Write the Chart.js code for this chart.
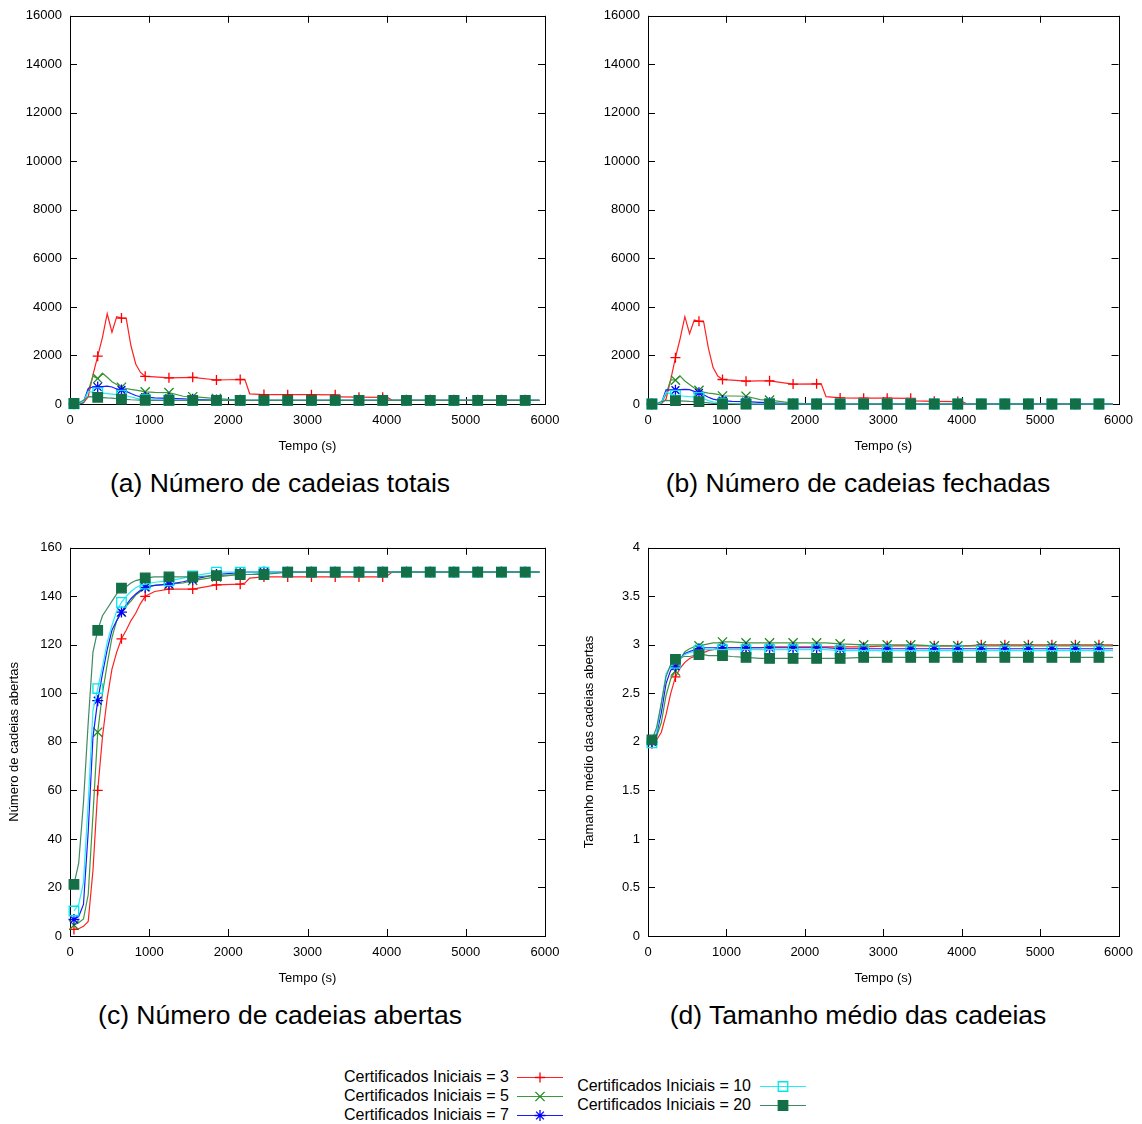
<!DOCTYPE html>
<html>
<head>
<meta charset="utf-8">
<script src="https://cdn.jsdelivr.net/npm/chart.js@4.4.0/dist/chart.umd.min.js"></script>
<style>
  body { margin: 0; background: #fff; font-family: "Liberation Sans", Arial, sans-serif; }
  #page { position: relative; width: 1142px; height: 1124px; overflow: hidden; background: #fff; }
  .box { position: absolute; }
  .cap { position: absolute; font-size: 26.5px; color: #000; white-space: nowrap; transform: translate(-50%, -50%); }
  .legtxt { position: absolute; font-size: 16px; color: #000; white-space: nowrap; transform: translateY(-50%); text-align: right; }
  .legsw { position: absolute; }
</style>
</head>
<body>
<div id="page">
  <canvas id="cA" class="box" width="575" height="460" style="left:0;top:0"></canvas>
  <canvas id="cB" class="box" width="567" height="460" style="left:575px;top:0"></canvas>
  <canvas id="cC" class="box" width="575" height="460" style="left:0;top:532px"></canvas>
  <canvas id="cD" class="box" width="567" height="460" style="left:575px;top:532px"></canvas>
  <div class="cap" style="left:280px;top:483px">(a) Número de cadeias totais</div>
  <div class="cap" style="left:858px;top:483px">(b) Número de cadeias fechadas</div>
  <div class="cap" style="left:280px;top:1015px">(c) Número de cadeias abertas</div>
  <div class="cap" style="left:858px;top:1015px">(d) Tamanho médio das cadeias</div>
  <div id="legenda"></div>
</div>
<script>
// tempo (s) das amostras
const tempo = [50,110,170,230,290,350,410,470,530,590,650,710,770,830,890,950,1070,1250,1430,1550,1850,2150,2210,2270,2450,2750,3050,3350,3410,3650,3950,4010,4070,4250,4550,4850,5150,5450,5750,5930];

const rotulos = ['Certificados Iniciais = 3','Certificados Iniciais = 5','Certificados Iniciais = 7','Certificados Iniciais = 10','Certificados Iniciais = 20'];

// (a) numero de cadeias totais
const totais3  = [3,5,40,300,1200,1970,2750,3720,2960,3600,3540,3530,2400,1650,1300,1140,1120,1080,1090,1100,990,1010,1000,420,390,385,385,380,290,280,275,270,150,150,150,150,150,150,150,150];
const totais5  = [5,8,60,550,1150,1050,1270,1100,920,800,690,640,600,570,540,500,480,470,320,300,220,160,155,150,150,150,150,150,150,150,150,150,150,150,150,150,150,150,150,150];
const totais7  = [7,12,80,640,700,700,720,740,700,620,580,520,430,350,300,280,250,235,210,195,160,150,150,150,150,150,150,150,150,150,150,150,150,150,150,150,150,150,150,150];
const totais10 = [10,20,100,520,480,470,450,430,410,390,370,340,290,240,200,185,170,160,155,150,150,150,150,150,150,150,150,150,150,150,150,150,150,150,150,150,150,150,150,150];
const totais20 = [21,50,150,300,290,275,265,250,240,220,200,190,175,165,160,155,150,150,150,150,150,150,150,150,150,150,150,150,150,150,150,150,150,150,150,150,150,150,150,150];

// (b) numero de cadeias fechadas
const fechadas3  = [0,0,10,200,1000,1910,2700,3600,2900,3460,3410,3380,2300,1500,1150,1010,980,940,950,955,820,830,820,300,250,240,240,235,130,110,100,95,0,0,0,0,0,0,0,0];
const fechadas5  = [0,0,20,400,1000,980,1150,950,800,660,560,490,450,430,400,330,330,320,180,160,40,0,0,0,0,0,0,0,0,0,0,0,0,0,0,0,0,0,0,0];
const fechadas7  = [0,0,30,580,580,570,590,600,590,520,460,380,280,200,160,140,110,95,70,55,0,0,0,0,0,0,0,0,0,0,0,0,0,0,0,0,0,0,0,0];
const fechadas10 = [0,0,40,480,420,370,340,320,300,290,270,220,140,90,60,40,20,5,0,0,0,0,0,0,0,0,0,0,0,0,0,0,0,0,0,0,0,0,0,0];
const fechadas20 = [0,20,100,150,140,135,125,115,105,100,95,70,50,25,10,0,0,0,0,0,0,0,0,0,0,0,0,0,0,0,0,0,0,0,0,0,0,0,0,0];

// (c) numero de cadeias abertas
const abertas3  = [2.7,3,4,6,27,60,82,98,110,117,122.5,126,130,133,137,140,142,143,143,143,144.7,145,145.5,147.5,148,148,148,148,148,148,148,148.5,150,150,150,150,150,150,150,150];
const abertas5  = [4.5,5.5,7,17,50,84,100,112,123,130,133.5,136,138,140.5,142,144,144.5,145,145.5,146.5,148,149,149,149,149.5,150,150,150,150,150,150,150,150,150,150,150,150,150,150,150];
const abertas7  = [6.8,8,13,43,82,97,108,118,126,130,133.5,136.5,139,141,142.5,143.7,144.5,145,146,147,149,149.8,150,150,150,150,150,150,150,150,150,150,150,150,150,150,150,150,150,150];
const abertas10 = [10.3,13,22,55,93,102,111,121,128,134,137.5,140,142,143.5,144.5,145,145.8,146.4,147.5,148.4,150,150,150,150,150,150,150,150,150,150,150,150,150,150,150,150,150,150,150,150];
const abertas20 = [21.3,30,55,88,117,126,132,135,138,141,143.4,144,145.5,146.5,147,147.6,148,148,148,148,148.5,149,149,149,149,150,150,150,150,150,150,150,150,150,150,150,150,150,150,150];

// (d) tamanho medio das cadeias abertas
const tamanho3  = [1.98,2.02,2.1,2.28,2.5,2.67,2.76,2.82,2.86,2.88,2.9,2.92,2.94,2.95,2.96,2.97,2.97,2.97,2.97,2.98,2.98,2.98,2.98,2.98,2.98,2.98,2.99,2.99,2.99,2.99,2.99,2.99,2.99,3.0,3.0,3.0,3.0,3.0,3.0,3.0];
const tamanho5  = [2.02,2.06,2.2,2.48,2.65,2.73,2.85,2.93,2.96,2.98,2.99,3.0,3.01,3.02,3.02,3.03,3.03,3.02,3.02,3.02,3.02,3.02,3.02,3.02,3.01,3.0,3.0,3.0,3.0,2.99,2.99,2.99,2.99,2.99,2.99,2.99,2.99,2.99,2.99,2.99];
const tamanho7  = [2.0,2.08,2.3,2.6,2.74,2.78,2.86,2.91,2.93,2.95,2.96,2.97,2.97,2.97,2.97,2.97,2.97,2.97,2.97,2.97,2.97,2.97,2.97,2.97,2.96,2.96,2.96,2.96,2.96,2.96,2.96,2.96,2.96,2.96,2.96,2.96,2.96,2.96,2.96,2.96];
const tamanho10 = [1.99,2.1,2.4,2.7,2.79,2.81,2.86,2.9,2.92,2.93,2.94,2.95,2.95,2.95,2.95,2.95,2.95,2.95,2.95,2.95,2.95,2.95,2.95,2.95,2.94,2.94,2.94,2.94,2.94,2.94,2.94,2.94,2.94,2.94,2.94,2.94,2.94,2.94,2.94,2.94];
const tamanho20 = [2.02,2.15,2.4,2.67,2.8,2.85,2.87,2.88,2.88,2.89,2.9,2.9,2.89,2.89,2.89,2.89,2.88,2.87,2.86,2.86,2.86,2.86,2.86,2.86,2.86,2.87,2.87,2.87,2.87,2.87,2.87,2.87,2.87,2.87,2.87,2.87,2.87,2.87,2.87,2.87];

const estilos = [
  {cor: '#ff0000', linha: '#ff2020', ponto: 'cross',    raio: 5,   fundo: '#ff0000'},
  {cor: '#1f8a1f', linha: '#3c983c', ponto: 'crossRot', raio: 6.5, fundo: '#1f8a1f'},
  {cor: '#0000ff', linha: '#1a1aff', ponto: 'star',     raio: 5.5, fundo: '#0000ff'},
  {cor: '#00e6ee', linha: '#22eef4', ponto: 'rect',     raio: 6.7, fundo: 'rgba(0,0,0,0)'},
  {cor: '#146f46', linha: '#3f8a64', ponto: 'rect',     raio: 6.7, fundo: '#146f46'}
];

const fonte = {family: '"Liberation Sans", Arial, sans-serif', size: 13};

// moldura e marcas internas estilo gnuplot
const moldura = {
  id: 'moldura',
  beforeDatasetsDraw(chart) {
    const {ctx, chartArea: a, scales} = chart;
    ctx.save();
    ctx.strokeStyle = '#000';
    ctx.lineWidth = 1;
    ctx.beginPath();
    scales.x.ticks.forEach(t => {
      const px = Math.round(scales.x.getPixelForValue(t.value)) + 0.5;
      ctx.moveTo(px, a.bottom); ctx.lineTo(px, a.bottom - 7);
      ctx.moveTo(px, a.top); ctx.lineTo(px, a.top + 7);
    });
    scales.y.ticks.forEach(t => {
      const py = Math.round(scales.y.getPixelForValue(t.value)) + 0.5;
      ctx.moveTo(a.left, py); ctx.lineTo(a.left + 7, py);
      ctx.moveTo(a.right, py); ctx.lineTo(a.right - 7, py);
    });
    ctx.stroke();
    ctx.strokeRect(Math.round(a.left) + 0.5, Math.round(a.top) + 0.5, Math.round(a.right - a.left), Math.round(a.bottom - a.top));
    ctx.restore();
  }
};

function grafico(id, series, yMax, yStep, yTitulo, yLargura, padDireita) {
  const datasets = series.map((vals, i) => {
    const e = estilos[i];
    return {
      label: rotulos[i],
      data: tempo.map((t, k) => ({x: t, y: vals[k]})),
      borderColor: e.linha,
      borderWidth: 1.2,
      pointStyle: e.ponto,
      pointBorderColor: e.cor,
      pointBackgroundColor: e.fundo,
      pointBorderWidth: 1.3,
      pointRadius: c => ((tempo[c.dataIndex] - 50) % 300 === 0 ? e.raio : 0),
      tension: 0,
      order: 5 - i,
      clip: false
    };
  });
  new Chart(document.getElementById(id), {
    type: 'line',
    data: {datasets},
    options: {
      responsive: false,
      animation: false,
      layout: {padding: {top: 13, right: padDireita, left: 0, bottom: 0}},
      plugins: {legend: {display: false}, tooltip: {enabled: false}},
      scales: {
        x: {
          type: 'linear', min: 0, max: 6000,
          grid: {display: false, drawTicks: false},
          border: {display: false},
          ticks: {stepSize: 1000, font: fonte, color: '#000', padding: 9, maxRotation: 0, callback: v => String(v)},
          title: {display: true, text: 'Tempo (s)', font: fonte, color: '#000', padding: {top: 0, bottom: 6}},
          afterFit(s) { s.height = 56; }
        },
        y: {
          min: 0, max: yMax,
          grid: {display: false, drawTicks: false},
          border: {display: false},
          ticks: {stepSize: yStep, font: fonte, color: '#000', padding: 8, callback: v => String(v)},
          title: {display: !!yTitulo, text: yTitulo || '', font: fonte, color: '#000', padding: {top: 7, bottom: 0}},
          afterFit(s) { s.width = yLargura; }
        }
      }
    },
    plugins: [moldura]
  });
}

grafico('cA', [totais3, totais5, totais7, totais10, totais20], 16000, 2000, '', 70, 30);
grafico('cB', [fechadas3, fechadas5, fechadas7, fechadas10, fechadas20], 16000, 2000, '', 73, 19);
grafico('cC', [abertas3, abertas5, abertas7, abertas10, abertas20], 160, 20, 'Número de cadeias abertas', 70, 30);
grafico('cD', [tamanho3, tamanho5, tamanho7, tamanho10, tamanho20], 4, 0.5, 'Tamanho médio das cadeias abertas', 73, 19);

// legenda comum
const legPos = [
  {direita: 509, y: 1077, sx: 515},
  {direita: 509, y: 1096, sx: 515},
  {direita: 509, y: 1115, sx: 515},
  {direita: 751, y: 1086, sx: 758},
  {direita: 751, y: 1105, sx: 758}
];
const leg = document.getElementById('legenda');
rotulos.forEach((r, i) => {
  const p = legPos[i], e = estilos[i];
  const d = document.createElement('div');
  d.className = 'legtxt';
  d.style.right = (1142 - p.direita) + 'px';
  d.style.top = p.y + 'px';
  d.textContent = r;
  leg.appendChild(d);
  const c = document.createElement('canvas');
  c.className = 'legsw';
  c.width = 50; c.height = 18;
  c.style.left = p.sx + 'px';
  c.style.top = (p.y - 9) + 'px';
  leg.appendChild(c);
  const ctx = c.getContext('2d');
  ctx.strokeStyle = e.linha;
  ctx.lineWidth = 1.2;
  ctx.beginPath(); ctx.moveTo(2, 9.5); ctx.lineTo(48, 9.5); ctx.stroke();
  ctx.strokeStyle = e.cor;
  ctx.fillStyle = e.fundo;
  ctx.lineWidth = 1.3;
  if (Chart.helpers && Chart.helpers.drawPoint) {
    Chart.helpers.drawPoint(ctx, {pointStyle: e.ponto, radius: e.raio, rotation: 0, borderWidth: 1.3}, 25, 9.5);
  }
});
</script>
</body>
</html>
